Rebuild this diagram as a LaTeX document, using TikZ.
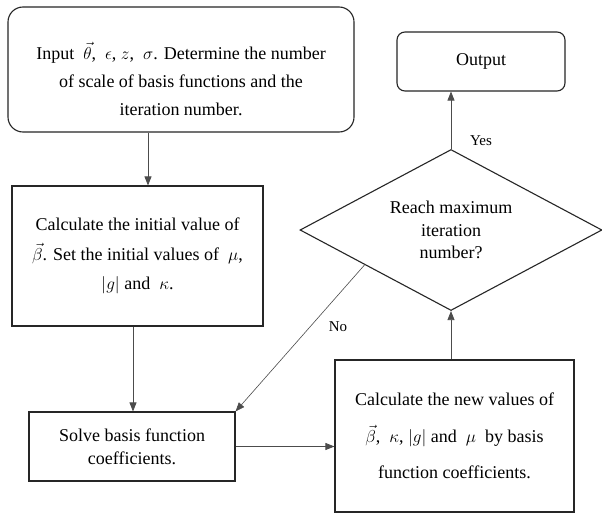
\documentclass[tikz,border=0pt]{standalone}
\usepackage{fontspec}
\setmainfont{LiberationSerif}[Extension=.ttf, UprightFont=*-Regular, BoldFont=*-Bold, ItalicFont=*-Italic, BoldItalicFont=*-BoldItalic]
\usetikzlibrary{shapes.geometric,arrows.meta,calc}
\begin{document}
\begin{tikzpicture}[x=1pt,y=-1pt,
  box/.style={draw=black!85, line width=1.1pt, inner sep=0pt, align=center},
  rbox/.style={box, rounded corners=15pt},
  txt/.style={inner sep=0pt, align=center},
  conn/.style={draw=black!70, line width=0.8pt, -{Triangle[length=9pt,width=7pt]}},
  lbl/.style={inner sep=0pt, font=\fontsize{15}{18}\selectfont}
]
\useasboundingbox (0,0) rectangle (602,514);
\fill[white] (0,0) rectangle (602,514);

\node[rbox, minimum width=346pt, minimum height=125pt] (start) at (181,69.5) {};
\node[txt, font=\fontsize{18}{28}\selectfont] (starttext) at (181,79)
  {Input \ $\vec{\theta}$, \ $\epsilon$, $z$, \ $\sigma$. Determine the number\\of scale of basis functions and the\\iteration number.};

\node[box, minimum width=251pt, minimum height=140pt, font=\fontsize{18}{29.5}\selectfont] (init) at (137.5,256)
  {Calculate the initial value of\\$\vec{\beta}$. Set the initial values of \ $\mu$,\\$|g|$ and \ $\kappa$.};

\node[box, minimum width=206pt, minimum height=69pt, font=\fontsize{18}{23}\selectfont] (solve) at (132,446.5)
  {Solve basis function\\coefficients.};

\node[box, minimum width=239pt, minimum height=152pt, font=\fontsize{18}{36.5}\selectfont] (calc) at (454.5,436)
  {Calculate the new values of\\$\vec{\beta}$, \ $\kappa$, $|g|$ and \ $\mu$ \ by basis\\function coefficients.};

\node[diamond, draw=black!85, line width=1.1pt, inner sep=0pt, aspect=1.876,
  minimum width=302pt, minimum height=161pt, align=center,
  font=\fontsize{18}{22.5}\selectfont] (dec) at (451,230)
  {Reach maximum\\iteration\\number?};

\node[rbox, rounded corners=8pt, minimum width=168pt, minimum height=59pt, font=\fontsize{18}{22}\selectfont] (out) at (481,61.5) {Output};

\coordinate (a1) at (148,0);
\coordinate (a2) at (133,0);
\coordinate (nstart) at ($(dec.west)!0.43!(dec.south)$);

\draw[conn] (start.south -| a1) -- (init.north -| a1);
\draw[conn] (init.south -| a2) -- (solve.north -| a2);
\draw[conn, line width=0.6pt] (nstart) -- (solve.north east);
\draw[conn] (solve.east) -- (calc.west |- solve.east);
\draw[conn] (calc.north -| dec.south) -- (dec.south);
\draw[conn] (dec.north) -- (out.south -| dec.north);

\node[lbl] (no) at (338,327) {No};
\node[lbl] (yes) at (481,141) {Yes};
\end{tikzpicture}
\end{document}
